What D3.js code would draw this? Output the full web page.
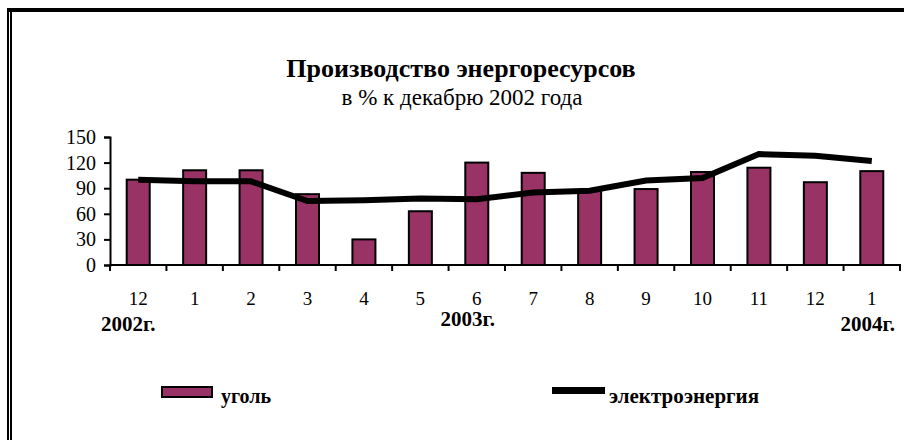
<!DOCTYPE html>
<html><head><meta charset="utf-8">
<script src="https://cdn.jsdelivr.net/npm/d3@7"></script>
<style>
html,body{margin:0;padding:0;background:#fff;}
svg text{font-family:"Liberation Serif","Times New Roman",serif;fill:#000;}
</style></head>
<body>
<svg id="c" width="904" height="440"></svg>
<script>
const months = ["12","1","2","3","4","5","6","7","8","9","10","11","12","1"];
const coal = [100,111,111,83,30,63,120,108,87,89,109,114,97,110];
const electricity = [100,98,98,75,76,78,77,85,87,99,102,130,128,122];
const yTicks = [0,30,60,90,120,150];
const yearLabels = ["2002г.","2003г.","2004г."];
const yearMonthIdx = [0,6,13];
const seriesNames = ["уголь","электроэнергия"];

const svg = d3.select("#c");
// frame
svg.append("rect").attr("x",7).attr("y",8).attr("width",897).attr("height",4).attr("fill","#000");
svg.append("rect").attr("x",7).attr("y",8).attr("width",2).attr("height",432).attr("fill","#000");
svg.append("rect").attr("x",10).attr("y",12).attr("width",2).attr("height",428).attr("fill","#000");

svg.append("text").attr("x",461).attr("y",77).attr("text-anchor","middle")
  .attr("font-size",26).attr("font-weight","bold").text("Производство энергоресурсов");
svg.append("text").attr("x",462).attr("y",105).attr("text-anchor","middle")
  .attr("font-size",23).text("в % к декабрю 2002 года");

const x = d3.scaleBand().domain(d3.range(months.length)).range([110,900]).paddingInner(0).paddingOuter(0);
const y = d3.scaleLinear().domain([0,150]).range([265,137]);
const bw = x.bandwidth();

// bars
svg.append("g").selectAll("rect").data(coal).join("rect")
  .attr("x",(d,i)=>x(i)+bw/2-11.5).attr("width",23)
  .attr("y",d=>y(d)).attr("height",d=>y(0)-y(d))
  .attr("fill","#993366").attr("stroke","#000").attr("stroke-width",2);

// line
const line = d3.line().x((d,i)=>x(i)+bw/2).y(d=>y(d));
svg.append("path").datum(electricity).attr("d",line).attr("fill","none")
  .attr("stroke","#000").attr("stroke-width",6).attr("stroke-linejoin","miter");

// y axis
const ya = svg.append("g").attr("transform","translate(110,0)")
  .call(d3.axisLeft(y).tickValues(yTicks).tickSize(6).tickPadding(8));
ya.select(".domain").attr("stroke","#000").attr("stroke-width",2);
ya.selectAll(".tick line").attr("stroke","#000").attr("stroke-width",2);
ya.selectAll("text").attr("font-size",20).attr("font-family","Liberation Serif").attr("fill","#000");

// x axis
const xa = svg.append("g").attr("transform","translate(0,265)");
xa.append("line").attr("x1",110).attr("x2",901).attr("stroke","#000").attr("stroke-width",2);
xa.selectAll("line.t").data(d3.range(months.length+1)).join("line").attr("class","t")
  .attr("x1",i=>i<months.length?x(i):x(months.length-1)+bw).attr("x2",i=>i<months.length?x(i):x(months.length-1)+bw)
  .attr("y1",0).attr("y2",6).attr("stroke","#000").attr("stroke-width",2);
svg.append("g").selectAll("text").data(months).join("text")
  .attr("x",(d,i)=>x(i)+bw/2).attr("y",305).attr("text-anchor","middle")
  .attr("font-size",19).text(d=>d);

const yearDx = [-10,-9,-4];
svg.append("g").selectAll("text").data(yearLabels).join("text")
  .attr("x",(d,i)=>x(yearMonthIdx[i])+bw/2+yearDx[i])
  .attr("y",(d,i)=>i==1?326:331).attr("text-anchor","middle")
  .attr("font-size",21).attr("font-weight","bold").text(d=>d);

// legend
const lg = svg.append("g");
lg.append("rect").attr("x",162).attr("y",387).attr("width",50).attr("height",10)
  .attr("fill","#993366").attr("stroke","#000").attr("stroke-width",2);
lg.append("text").attr("x",221).attr("y",403).attr("font-size",20).attr("font-weight","bold").text(seriesNames[0]);
lg.append("line").attr("x1",552).attr("x2",605).attr("y1",390.5).attr("y2",390.5).attr("stroke","#000").attr("stroke-width",7);
lg.append("text").attr("x",609).attr("y",403).attr("font-size",21).attr("font-weight","bold").text(seriesNames[1]);
</script>
</body></html>
